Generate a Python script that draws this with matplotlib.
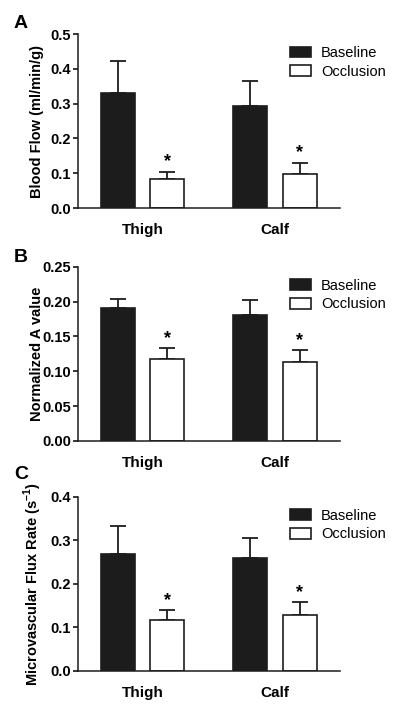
import matplotlib
matplotlib.use("Agg")
import matplotlib.pyplot as plt
import numpy as np

plt.rcParams['font.family'] = ['Liberation Sans', 'DejaVu Sans']
plt.rcParams['mathtext.fontset'] = 'custom'
plt.rcParams['mathtext.rm'] = 'Liberation Sans:bold'
plt.rcParams['mathtext.bf'] = 'Liberation Sans:bold'

groups = ["Thigh", "Calf"]
series = ["Baseline", "Occlusion"]

# panel A: blood flow
flow_base = [0.331, 0.293]
flow_base_err = [0.092, 0.071]
flow_occ = [0.083, 0.098]
flow_occ_err = [0.021, 0.032]

# panel B: normalized A value
aval_base = [0.191, 0.181]
aval_base_err = [0.012, 0.021]
aval_occ = [0.117, 0.113]
aval_occ_err = [0.016, 0.017]

# panel C: microvascular flux rate
flux_base = [0.268, 0.259]
flux_base_err = [0.064, 0.046]
flux_occ = [0.118, 0.129]
flux_occ_err = [0.022, 0.029]

panels = [
    ("A", "Blood Flow (ml/min/g)", flow_base, flow_base_err, flow_occ, flow_occ_err,
     np.arange(0, 0.51, 0.1), "%.1f", 0.5),
    ("B", "Normalized A value", aval_base, aval_base_err, aval_occ, aval_occ_err,
     np.arange(0, 0.251, 0.05), "%.2f", 0.25),
    ("C", r"Microvascular Flux Rate (s$^{-1}$)", flux_base, flux_base_err, flux_occ, flux_occ_err,
     np.arange(0, 0.41, 0.1), "%.1f", 0.4),
]

W, H = 400, 709
fig = plt.figure(figsize=(W / 100, H / 100), dpi=100)

# axes pixel boxes (top, bottom) and letter baselines
boxes = [(34, 208), (266.7, 441), (496.7, 671)]
letter_y = [28, 262, 479]
x0, x1 = 78, 340

x = np.arange(len(groups))
off = 0.1875
width = 0.2576

for (letter, ylab, base, berr, occ, oerr, ticks, fmt, ymax), (top, bot), ly in zip(panels, boxes, letter_y):
    ax = fig.add_axes([x0 / W, 1 - bot / H, (x1 - x0) / W, (bot - top) / H])
    ax.bar(x - off, base, width, color='#1c1c1c', edgecolor='#1c1c1c', linewidth=1.2,
           label=series[0], zorder=2)
    ax.bar(x + off, occ, width, color='white', edgecolor='#1c1c1c', linewidth=1.2,
           label=series[1], zorder=2)
    ax.errorbar(x - off, base, yerr=[np.zeros(len(base)), berr], fmt='none',
                ecolor='#1c1c1c', elinewidth=1.3, capsize=6, capthick=1.3, zorder=1)
    ax.errorbar(x + off, occ, yerr=[np.zeros(len(occ)), oerr], fmt='none',
                ecolor='#1c1c1c', elinewidth=1.3, capsize=6, capthick=1.3, zorder=1)
    for xi, v, e in zip(x + off, occ, oerr):
        ax.annotate("*", (xi, v + e), xytext=(0, 1), textcoords='offset points',
                    ha='center', va='bottom', fontsize=13, fontweight='bold')

    ax.set_xlim(-0.49, 1.494)
    ax.set_ylim(0, ymax)
    ax.set_yticks(ticks)
    ax.set_yticklabels([fmt % t for t in ticks], fontsize=10.5, fontweight='bold')
    ax.set_xticks(x)
    ax.set_xticklabels(groups, fontsize=11, fontweight='bold')
    ax.tick_params(axis='x', length=0, pad=11)
    ax.tick_params(axis='y', length=3.5, width=1.1, pad=1.5, direction='out')
    for s in ['top', 'right']:
        ax.spines[s].set_visible(False)
    for s in ['left', 'bottom']:
        ax.spines[s].set_linewidth(1.1)
        ax.spines[s].set_color('#1c1c1c')

    ax.set_ylabel(ylab, fontsize=10.5, fontweight='bold')
    ax.yaxis.set_label_coords(-0.13, 0.5)

    ax.legend(loc='upper left', bbox_to_anchor=(0.81, 0.93), frameon=False,
              fontsize=10.5, handlelength=1.45, handleheight=0.75, handletextpad=0.65,
              labelspacing=0.3, borderpad=0, borderaxespad=0)

    fig.text(14 / W, 1 - ly / H, letter, fontsize=14, fontweight='bold',
             ha='left', va='baseline')

fig.savefig("out.png", dpi=100)
